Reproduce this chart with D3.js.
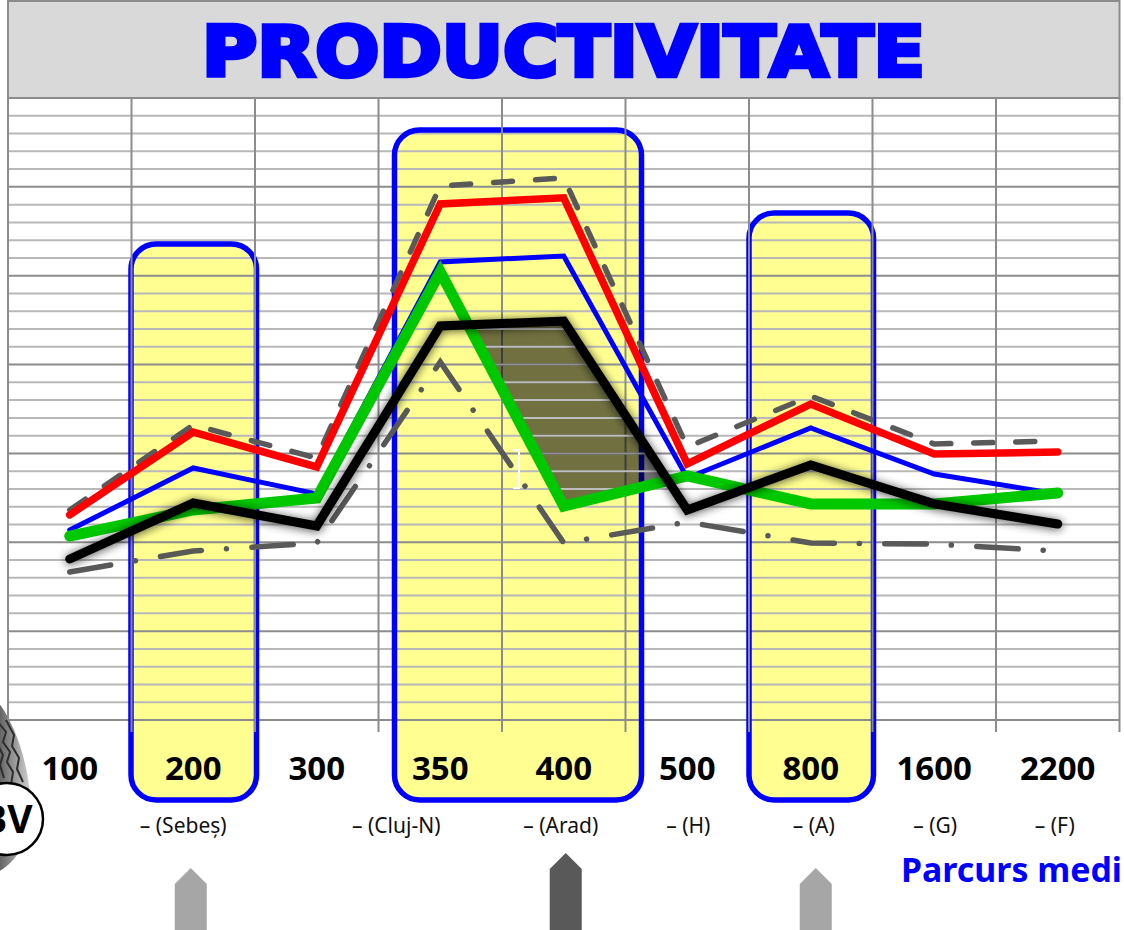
<!DOCTYPE html>
<html>
<head>
<meta charset="utf-8">
<script src="https://cdn.jsdelivr.net/npm/d3@7"></script>
<style>
html, body { margin: 0; padding: 0; background: #fff; overflow: hidden; }
svg { display: block; }
text { font-family: "Noto Sans", "Open Sans", sans-serif; }
</style>
</head>
<body>
<div id="chart"></div>
<script>
// data (y unit = one grid row)
let categories = ["100", "200", "300", "350", "400", "500", "800", "1600", "2200"];
let subLabels = ["– (Sebeș)", "– (Cluj-N)", "– (Arad)", "– (H)", "– (A)", "– (G)", "– (F)"];
let subLabelCats = ["200", "350", "400", "500", "800", "1600", "2200"];
let subLabelShift = [-10, -44, -3, 1, 3, 1, -3];

let redValues = [11.54, 16.2, 14.24, 29.04, 29.38, 14.41, 17.78, 14.97, 15.08];
let blueValues = [10.69, 14.18, 12.72, 25.77, 26.11, 13.62, 16.43, 13.84, 12.72];
let greenValues = [10.35, 11.82, 12.49, 25.21, 12.04, 13.73, 12.16, 12.16, 12.77];
let blackValues = [9.06, 12.21, 10.92, 22.17, 22.45, 11.82, 14.35, 12.16, 11.03];
let upperDashValues = [11.82, 16.6, 14.74, 30.05, 30.5, 15.36, 18.23, 15.53, 15.7];
let lowerDashValues = [8.33, 9.51, 9.96, 20.15, 9.96, 11.14, 9.96, 9.9, 9.51];

let width = 1124, height = 930;
let plotLeft = 8, plotRight = 1119.5, plotTop = 98, plotBottom = 720;
let rowCount = 35;

let mygrid = "#b8b8b8";
let mygriddark = "#8c8c8c";
let myyellow = "#ffff91";
let myblue = "#0000ff";
let mydash = "#595959";

let svg = d3.select("#chart").append("svg")
    .attr("width", width)
    .attr("height", height);

let defs = svg.append("defs");
let blur = defs.append("filter").attr("id", "glow")
    .attr("x", "-10%").attr("y", "-30%").attr("width", "120%").attr("height", "160%");
blur.append("feDropShadow")
    .attr("dx", 0).attr("dy", 1).attr("stdDeviation", 5)
    .attr("flood-color", "#000").attr("flood-opacity", 0.7);

let tyreGrad = defs.append("linearGradient").attr("id", "tyre")
    .attr("x1", 0).attr("y1", 0).attr("x2", 1).attr("y2", 0);
tyreGrad.append("stop").attr("offset", "0%").attr("stop-color", "#5e5e5e");
tyreGrad.append("stop").attr("offset", "65%").attr("stop-color", "#a8a8a8");
tyreGrad.append("stop").attr("offset", "100%").attr("stop-color", "#cfcfcf");

let x = d3.scaleBand().domain(categories).range([plotLeft, plotRight]);
let cx = d => x(d) + x.bandwidth() / 2;
let y = d3.scaleLinear().domain([0, rowCount]).range([plotBottom, plotTop]);

// tyre sits behind everything at the bottom left
svg.append("path")
    .attr("d", "M-2,702 C14,722 28,762 30,796 C31,835 22,858 -2,872 Z")
    .attr("fill", "url(#tyre)");
svg.append("path")
    .attr("d", "M-2,722 L6,732 L3,742 L10,752 L7,762 L13,772 L11,785")
    .attr("fill", "none").attr("stroke", "#2e2e2e").attr("stroke-width", 2);
svg.append("path")
    .attr("d", "M6,720 L14,735 L12,746 L19,758 L17,769 L23,782")
    .attr("fill", "none").attr("stroke", "#2e2e2e").attr("stroke-width", 2);
svg.append("path")
    .attr("d", "M-2,745 L3,755 L0,765 L4,778")
    .attr("fill", "none").attr("stroke", "#2e2e2e").attr("stroke-width", 2);

// yellow highlight boxes
let boxes = [
    {left: x("200") - 0.5, right: x("200") + x.bandwidth() + 1.5, top: 244},
    {left: x("350") + 16, right: x("400") + x.bandwidth() + 16, top: 130},
    {left: x("800"), right: x("800") + x.bandwidth() + 1, top: 213}
];
let boxBottom = 800;
let boxRound = 25;
svg.selectAll("rect.box-fill").data(boxes).enter().append("rect")
    .attr("class", "box-fill")
    .attr("x", d => d.left)
    .attr("y", d => d.top)
    .attr("width", d => d.right - d.left)
    .attr("height", d => boxBottom - d.top)
    .attr("rx", boxRound)
    .attr("fill", myyellow);

// horizontal grid
let hGrid = svg.append("g");
function drawHGrid(g, light, dark) {
    g.selectAll("line").data(d3.range(0, rowCount + 1)).enter().append("line")
        .attr("x1", plotLeft).attr("x2", plotRight)
        .attr("y1", d => y(d)).attr("y2", d => y(d))
        .attr("stroke", d => d % 5 === 0 ? dark : light)
        .attr("stroke-width", 2);
}
drawHGrid(hGrid, mygrid, mygriddark);

svg.selectAll("rect.box-line").data(boxes).enter().append("rect")
    .attr("class", "box-line")
    .attr("x", d => d.left)
    .attr("y", d => d.top)
    .attr("width", d => d.right - d.left)
    .attr("height", d => boxBottom - d.top)
    .attr("rx", boxRound)
    .attr("fill", "none")
    .attr("stroke", myblue)
    .attr("stroke-width", 5.5);

// vertical grid, runs a little past the axis
let vLines = categories.map(d => x(d)).concat([plotRight]);
svg.append("g").selectAll("line").data(vLines).enter().append("line")
    .attr("x1", d => d).attr("x2", d => d)
    .attr("y1", plotTop).attr("y2", (d, i) => i === 0 ? plotBottom : 732)
    .attr("stroke", mygriddark)
    .attr("stroke-width", 2);

// title band
svg.append("rect")
    .attr("x", plotLeft).attr("y", 1)
    .attr("width", plotRight - plotLeft).attr("height", plotTop - 1)
    .attr("fill", "#d9d9d9")
    .attr("stroke", mygriddark)
    .attr("stroke-width", 2);
svg.append("text")
    .attr("x", 202).attr("y", 76)
    .attr("textLength", 723).attr("lengthAdjust", "spacingAndGlyphs")
    .attr("fill", myblue)
    .attr("stroke", myblue).attr("stroke-width", 4.5)
    .attr("stroke-linejoin", "miter")
    .style("font-family", "'DejaVu Sans', sans-serif")
    .style("font-weight", 700)
    .style("font-size", "70px")
    .text("PRODUCTIVITATE");

let line = d3.line().x((d, i) => cx(categories[i])).y(d => y(d));

function drawSeries(values, color, w, dash) {
    return svg.append("path")
        .datum(values)
        .attr("d", line)
        .attr("fill", "none")
        .attr("stroke", color)
        .attr("stroke-width", w)
        .attr("stroke-linecap", "round")
        .attr("stroke-linejoin", "miter")
        .attr("stroke-dasharray", dash || null);
}

drawSeries(upperDashValues, mydash, 5.5, "19,23");
drawSeries(lowerDashValues, mydash, 5.5, "41.5,25,0.1,25.4");

// shaded gap between green and black, from crossing to crossing
function crossing(i) {
    let d0 = blackValues[i] - greenValues[i];
    let d1 = blackValues[i + 1] - greenValues[i + 1];
    let t = d0 / (d0 - d1);
    return {
        px: cx(categories[i]) + t * (cx(categories[i + 1]) - cx(categories[i])),
        top: blackValues[i] + t * (blackValues[i + 1] - blackValues[i])
    };
}
let c1 = crossing(3), c2 = crossing(4);
let gap = [
    {px: c1.px, top: c1.top, bottom: c1.top},
    {px: cx("400"), top: blackValues[4], bottom: greenValues[4]},
    {px: c2.px, top: c2.top, bottom: c2.top}
];
let gapArea = d3.area().x(d => d.px).y0(d => y(d.bottom)).y1(d => y(d.top));
svg.append("path")
    .datum(gap)
    .attr("d", gapArea)
    .attr("fill", "#000")
    .attr("fill-opacity", 0.56);

// grid shows through the shade
defs.append("clipPath").attr("id", "gap-clip").append("path").datum(gap).attr("d", gapArea);
drawHGrid(svg.append("g").attr("clip-path", "url(#gap-clip)"), "#bdbdbd", "#8f8f8f");

// little white bracket left over in the source slide
svg.append("path")
    .attr("d", "M513,450 H519 V488 H513")
    .attr("fill", "none").attr("stroke", "#fff").attr("stroke-width", 2);

drawSeries(redValues, "#ff0000", 7.5);
drawSeries(blueValues, myblue, 5);
drawSeries(greenValues, "#00c800", 11);
drawSeries(blackValues, "#000", 9).attr("filter", "url(#glow)");

// category labels
svg.append("g").selectAll("text").data(categories).enter().append("text")
    .attr("x", d => cx(d))
    .attr("y", 780)
    .attr("text-anchor", "middle")
    .style("font-size", "33px")
    .style("font-weight", 700)
    .attr("fill", "#000")
    .text(d => d);

svg.append("g").selectAll("text").data(subLabels).enter().append("text")
    .attr("x", (d, i) => cx(subLabelCats[i]) + subLabelShift[i])
    .attr("y", 833)
    .attr("text-anchor", "middle")
    .style("font-size", "21px")
    .attr("fill", "#111")
    .text(d => d);

svg.append("text")
    .attr("x", 901).attr("y", 882)
    .attr("textLength", 221).attr("lengthAdjust", "spacingAndGlyphs")
    .attr("fill", myblue)
    .style("font-size", "34px")
    .style("font-weight", 700)
    .text("Parcurs medi");

// BV badge
svg.append("circle")
    .attr("cx", 7).attr("cy", 819).attr("r", 36)
    .attr("fill", "#fff").attr("stroke", "#000").attr("stroke-width", 2.5);
svg.append("text")
    .attr("x", 7).attr("y", 833)
    .attr("text-anchor", "middle")
    .style("font-size", "39px")
    .style("font-weight", 700)
    .text("BV");

// arrows under the chart
let arrows = [
    {cat: "200", shift: -2.5, tip: 868, color: "#a6a6a6"},
    {cat: "400", shift: 2, tip: 853, color: "#595959"},
    {cat: "800", shift: 5, tip: 868, color: "#a6a6a6"}
];
svg.selectAll("path.arrow").data(arrows).enter().append("path")
    .attr("class", "arrow")
    .attr("d", d => {
        let m = cx(d.cat) + d.shift;
        return d3.line()([[m - 16, 930], [m - 16, d.tip + 16], [m, d.tip], [m + 16, d.tip + 16], [m + 16, 930]]);
    })
    .attr("fill", d => d.color);
</script>
</body>
</html>
